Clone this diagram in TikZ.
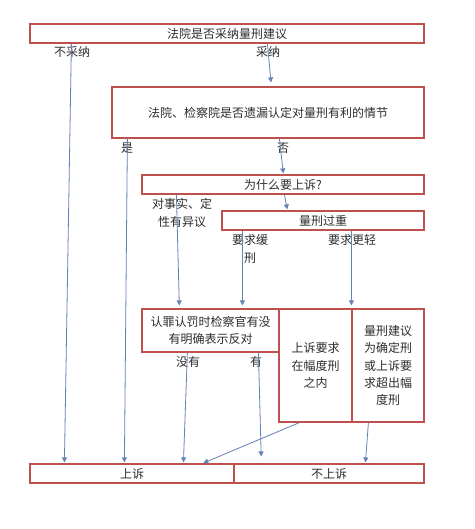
\documentclass[tikz,border=0pt]{standalone}
\usepackage{fontspec}
\newfontfamily\cjk{Noto Sans CJK SC}
\usetikzlibrary{arrows.meta}
\usetikzlibrary{positioning}

\definecolor{boxred}{RGB}{192,80,77}
\definecolor{linkblue}{RGB}{100,130,180}
\definecolor{txtgray}{RGB}{45,45,45}

\tikzset{
  box/.style={draw=boxred, line width=1.2pt, rectangle, inner sep=0pt,
    text=txtgray, align=center, font=\cjk\fontsize{12}{17.3}\selectfont},
  lbl/.style={text=txtgray, align=center, inner sep=0pt,
    font=\cjk\fontsize{12}{17.3}\selectfont},
  link/.style={draw=linkblue, line width=0.8pt,
    -{Triangle[length=5pt,width=5pt]}, shorten >=1pt}
}

\begin{document}
\begin{tikzpicture}[x=1pt,y=-1pt]

\useasboundingbox[fill=white] (0,0) rectangle (474,529);

\node[box, minimum width=394, minimum height=19] (q1) at (227,33.5) {法院是否采纳量刑建议};
\node[box, minimum width=312, minimum height=51] (q2) at (268,112.5) {法院、检察院是否遗漏认定对量刑有利的情节};
\node[box, minimum width=282, minimum height=19] (q3) at (283,184.5) {为什么要上诉?};
\node[box, minimum width=202, minimum height=19] (q4) at (323,220.5) {量刑过重};
\node[box, minimum width=137, minimum height=43] (q5) at (210.5,330.5) {认罪认罚时检察官有没\\有明确表示反对};
\node[box, minimum width=73, minimum height=113] (r6) at (315.5,365.5) {上诉要求\\在幅度刑\\之内};
\node[box, minimum width=72, minimum height=113] (r7) at (388,365.5) {量刑建议\\为确定刑\\或上诉要\\求超出幅\\度刑};
\node[box, minimum width=204, minimum height=19] (yes) at (132,473.5) {上诉};
\node[box, minimum width=190, minimum height=19] (no) at (329,473.5) {不上诉};

% labels
\node[lbl] (l1) at (72,52) {不采纳};
\node[lbl] (l2) at (268,52) {采纳};
\node[lbl] (l3) at (127,148) {是};
\node[lbl] (l4) at (283,148) {否};
\node[lbl] (l5) at (182,213) {对事实、定\\性有异议};
\node[lbl] (l6) at (250,249) {要求缓\\刑};
\node[lbl] (l7) at (352,240) {要求更轻};
\node[lbl] (l8) at (188,362) {没有};
\node[lbl] (l9) at (256,362) {有};

\draw[link] ([xshift=42]q1.south west) -- ([xshift=35]yes.north west);
\draw[link, shorten >=4pt] ([xshift=238]q1.south west) -- ([xshift=160]q2.north west);
\draw[link] ([xshift=16]q2.south west) -- ([xshift=95]yes.north west);
\draw[link] ([xshift=168]q2.south west) -- ([xshift=142]q3.north west);
\draw[link] ([xshift=143]q3.south west) -- ([xshift=66]q4.north west);
\draw[link, shorten >=3pt] ([xshift=35]q3.south west) -- ([xshift=38]q5.north west);
\draw[link, shorten >=3pt] ([xshift=21]q4.south west) -- ([xshift=101]q5.north west);
\draw[link, shorten >=3pt] ([xshift=130]q4.south west) -- (r7.north west);
\draw[link] ([xshift=46]q5.south west) -- ([xshift=154]yes.north west);
\draw[link, shorten >=7pt] ([xshift=117]q5.south west) -- ([xshift=28]no.north west);
\draw[link] ([xshift=21]r6.south west) -- ([xshift=173]yes.north west);
\draw[link] ([xshift=17]r7.south west) -- ([xshift=132]no.north west);

\end{tikzpicture}
\end{document}
